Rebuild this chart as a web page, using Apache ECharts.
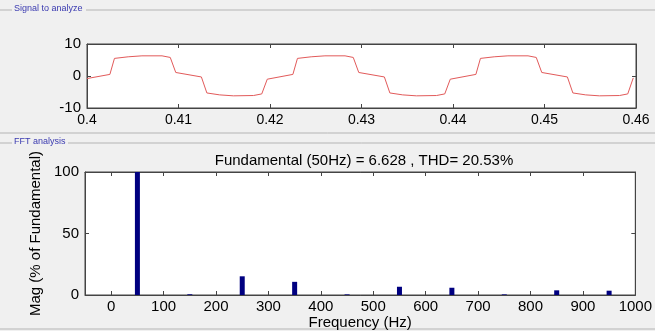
<!DOCTYPE html>
<html>
<head>
<meta charset="utf-8">
<script src="https://cdn.jsdelivr.net/npm/echarts@6/dist/echarts.min.js"></script>
<style>
  html, body { margin: 0; padding: 0; background: #f0f0f0; }
  #chart { width: 655px; height: 331px; }
</style>
</head>
<body>
<div id="chart"></div>
<script>
// signal samples: [time (s), value]
var signalPoints = [
  [0.4000, -0.8], [0.4025, 0.5], [0.4030, 5.5], [0.4045, 6.0], [0.4060, 6.3], [0.4082, 6.3],
  [0.4091, 5.8], [0.4097, 1.1], [0.4125, -0.3], [0.4131, -5.3], [0.4145, -5.9], [0.4160, -6.2],
  [0.4182, -6.1], [0.4191, -5.6], [0.4197, -1.0],
  [0.4225, 0.5], [0.4230, 5.5], [0.4245, 6.0], [0.4260, 6.3], [0.4282, 6.3], [0.4291, 5.8],
  [0.4297, 1.1], [0.4325, -0.3], [0.4331, -5.3], [0.4345, -5.9], [0.4360, -6.2], [0.4382, -6.1],
  [0.4391, -5.6], [0.4397, -1.0],
  [0.4425, 0.5], [0.4430, 5.5], [0.4445, 6.0], [0.4460, 6.3], [0.4482, 6.3], [0.4491, 5.8],
  [0.4497, 1.1], [0.4525, -0.3], [0.4531, -5.3], [0.4545, -5.9], [0.4560, -6.2], [0.4582, -6.1],
  [0.4591, -5.6], [0.4597, -0.6]
];

// harmonic spectrum
var harmonicFreq = [50, 150, 250, 350, 450, 550, 650, 750, 850, 950];
var harmonicMag = [100, 0.6, 15.2, 10.7, 0.5, 6.7, 5.9, 0.5, 3.8, 3.5];

var fftTitle = "Fundamental (50Hz) = 6.628 , THD= 20.53%";

var font = "Liberation Sans, Arial, sans-serif";
var labelStyle = { color: "#000", fontSize: 14, fontFamily: font };
var labelBig = { color: "#000", fontSize: 15, fontFamily: font };
var lineStyle = { color: "#444", width: 1 };
var axLine = { show: true, onZero: false, lineStyle: lineStyle };
var tickIn = { show: true, inside: true, length: 4, lineStyle: lineStyle };
var plain = function (v) { return String(v); };

var chart = echarts.init(document.getElementById("chart"));

var option = {
  animation: false,
  backgroundColor: "#f0f0f0",
  title: {
    text: fftTitle,
    left: 359,
    textAlign: "center",
    top: 148,
    textStyle: { color: "#000", fontSize: 15, fontWeight: "normal", fontFamily: font }
  },
  grid: [
    { left: 87, right: 19, top: 44, height: 64, show: true, backgroundColor: "#fff", borderColor: "#444", borderWidth: 1 },
    { left: 85, right: 19, top: 172, height: 124, show: true, backgroundColor: "#fff", borderColor: "#444", borderWidth: 1 }
  ],
  xAxis: [
    {
      type: "value", gridIndex: 0, min: 0.4, max: 0.46, interval: 0.01,
      axisLine: axLine, axisTick: tickIn,
      axisLabel: Object.assign({ margin: 5, formatter: plain }, labelStyle),
      splitLine: { show: false }
    },
    {
      type: "value", gridIndex: 0, position: "top", min: 0.4, max: 0.46, interval: 0.01,
      axisLine: axLine, axisTick: tickIn,
      axisLabel: { show: false }, splitLine: { show: false }
    },
    {
      type: "value", gridIndex: 1, min: -50, max: 1000, splitNumber: 10,
      name: "Frequency (Hz)", nameLocation: "middle", nameGap: 20,
      nameTextStyle: labelBig,
      axisLine: axLine, axisTick: tickIn,
      axisLabel: Object.assign({ margin: 4, showMinLabel: false, formatter: plain }, labelBig),
      splitLine: { show: false }
    },
    {
      type: "value", gridIndex: 1, position: "top", min: -50, max: 1000, splitNumber: 10,
      axisLine: axLine, axisTick: tickIn,
      axisLabel: { show: false }, splitLine: { show: false }
    }
  ],
  yAxis: [
    {
      type: "value", gridIndex: 0, min: -10, max: 10, interval: 10,
      axisLine: axLine, axisTick: tickIn,
      axisLabel: Object.assign({ margin: 6 }, labelBig),
      splitLine: { show: false }
    },
    {
      type: "value", gridIndex: 0, position: "right", min: -10, max: 10, interval: 10,
      axisLine: axLine, axisTick: tickIn,
      axisLabel: { show: false }, splitLine: { show: false }
    },
    {
      type: "value", gridIndex: 1, min: 0, max: 100, interval: 50,
      name: "Mag (% of Fundamental)", nameLocation: "middle", nameGap: 34,
      nameTextStyle: labelBig,
      axisLine: axLine, axisTick: tickIn,
      axisLabel: Object.assign({ margin: 6 }, labelBig),
      splitLine: { show: false }
    },
    {
      type: "value", gridIndex: 1, position: "right", min: 0, max: 100, interval: 50,
      axisLine: axLine, axisTick: tickIn,
      axisLabel: { show: false }, splitLine: { show: false }
    }
  ],
  series: [
    {
      type: "line", xAxisIndex: 0, yAxisIndex: 0,
      data: signalPoints, showSymbol: false,
      lineStyle: { color: "#e25a5a", width: 1 }
    },
    {
      type: "bar", xAxisIndex: 2, yAxisIndex: 2,
      data: harmonicFreq.map(function (f, i) { return [f, harmonicMag[i]]; }),
      barWidth: 5,
      itemStyle: { color: "#000080" }
    }
  ],
  graphic: [
    { type: "line", shape: { x1: 0, y1: 10, x2: 12, y2: 10 }, style: { stroke: "#b4b4b4", lineWidth: 1 } },
    { type: "line", shape: { x1: 86, y1: 10, x2: 655, y2: 10 }, style: { stroke: "#b4b4b4", lineWidth: 1 } },
    { type: "text", left: 14, top: 4, style: { text: "Signal to analyze", fill: "#3a3ab0", fontSize: 9, fontFamily: font } },
    { type: "line", shape: { x1: 0, y1: 133, x2: 655, y2: 133 }, style: { stroke: "#b4b4b4", lineWidth: 1 } },
    { type: "line", shape: { x1: 0, y1: 143, x2: 12, y2: 143 }, style: { stroke: "#b4b4b4", lineWidth: 1 } },
    { type: "line", shape: { x1: 68, y1: 143, x2: 655, y2: 143 }, style: { stroke: "#b4b4b4", lineWidth: 1 } },
    { type: "text", left: 14, top: 137, style: { text: "FFT analysis", fill: "#3a3ab0", fontSize: 9, fontFamily: font } },
    { type: "line", shape: { x1: 0, y1: 329, x2: 655, y2: 329 }, style: { stroke: "#b4b4b4", lineWidth: 1 } }
  ]
};

chart.setOption(option);
</script>
</body>
</html>
